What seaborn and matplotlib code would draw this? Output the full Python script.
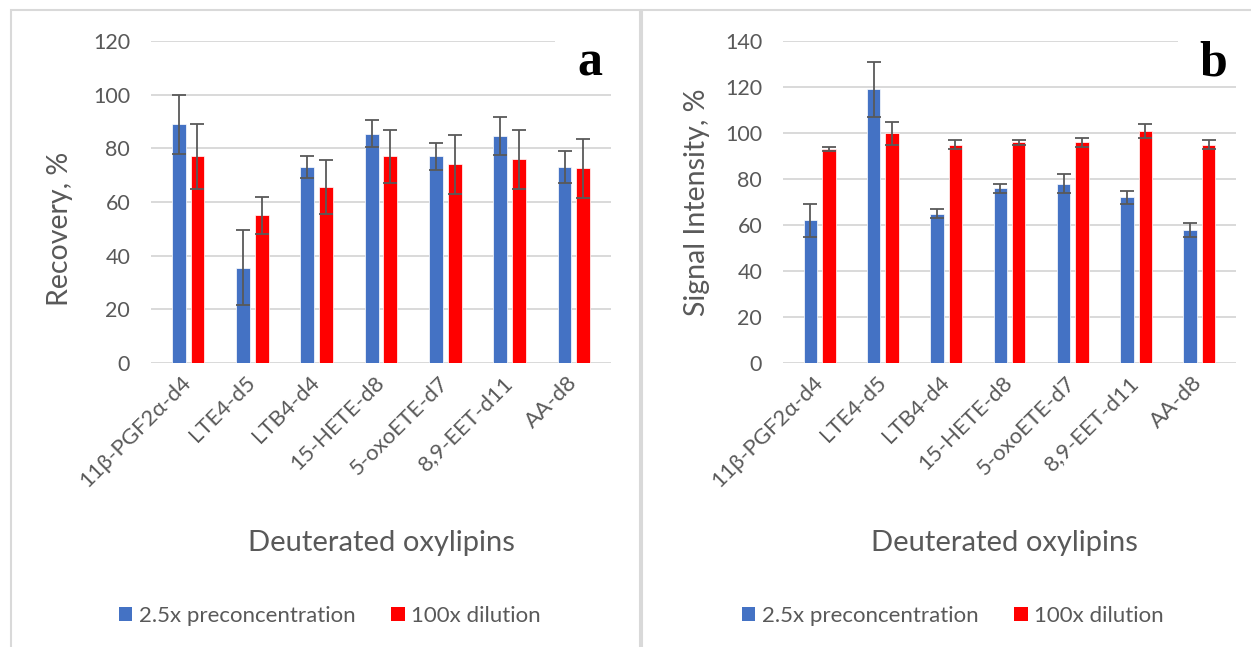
import matplotlib
matplotlib.use("Agg")
import matplotlib.pyplot as plt
from matplotlib.patches import Rectangle, Patch
import seaborn as sns
import pandas as pd

categories = ["11β-PGF2α-d4", "LTE4-d5", "LTB4-d4", "15-HETE-d8", "5-oxoETE-d7", "8,9-EET-d11", "AA-d8"]
series_names = ["2.5x preconcentration", "100x dilution"]

recovery_pre = [89, 35.5, 73, 85.5, 77, 84.5, 73]
recovery_pre_err = [11, 14, 4, 5, 5, 7, 6]
recovery_dil = [77, 55, 65.5, 77, 74, 76, 72.5]
recovery_dil_err = [12, 7, 10, 10, 11, 11, 11]

signal_pre = [62, 119, 65, 76, 78, 72, 58]
signal_pre_err = [7, 12, 2, 2, 4, 3, 3]
signal_dil = [93, 100, 95, 96, 96, 101, 95]
signal_dil_err = [1, 5, 2, 1, 2, 3, 2]

colors = ["#4472C4", "#FF0000"]
text_color = "#595959"
grid_color = "#D9D9D9"

sns.set_theme(style="white")
plt.rcParams["font.family"] = ["Lato", "DejaVu Sans"]

W, H = 1251, 647
fig = plt.figure(figsize=(W / 100, H / 100), dpi=100)
fig.patch.set_facecolor("white")


def fx(px):
    return px / W


def fy(py):
    return 1 - py / H


def make_panel(left, right, top, bottom, pre, pre_err, dil, dil_err, ymax,
               ylabel, ylabel_px, ylabel_y, xlabel_x, letter, letter_x, box_x0, box_x1, legend_x):
    ax = fig.add_axes([fx(left), fy(bottom), fx(right - left), (bottom - top) / H])
    df = pd.DataFrame({
        "category": categories * 2,
        "series": [series_names[0]] * len(categories) + [series_names[1]] * len(categories),
        "value": list(pre) + list(dil),
    })
    sns.barplot(data=df, x="category", y="value", hue="series", order=categories,
                hue_order=series_names, palette=colors, errorbar=None, width=0.58,
                gap=0.26, saturation=1, edgecolor="white", linewidth=0.5,
                legend=False, ax=ax)
    for cont, err in zip(ax.containers, [pre_err, dil_err]):
        xs = [b.get_x() + b.get_width() / 2 for b in cont]
        ys = [b.get_height() for b in cont]
        ax.errorbar(xs, ys, yerr=err, fmt="none", ecolor=text_color, elinewidth=1.3,
                    capsize=4.7, capthick=1.3, zorder=5)
    ax.set_ylim(0, ymax)
    ax.set_yticks(range(0, ymax + 1, 20))
    ax.yaxis.grid(True, color=grid_color, linewidth=1.4)
    ax.xaxis.grid(False)
    ax.set_axisbelow(True)
    for s in ax.spines.values():
        s.set_visible(False)
    ax.tick_params(axis="both", length=0, colors=text_color)
    ax.tick_params(axis="y", pad=15, labelsize=15.5)
    ax.tick_params(axis="x", pad=12, labelsize=16)
    ax.set_xticks(range(len(categories)))
    ax.set_xticklabels(categories, rotation=45, ha="right", va="center",
                       rotation_mode="anchor")
    ax.set_ylabel(ylabel, fontsize=20.5, color=text_color)
    ax.yaxis.set_label_coords((ylabel_px - left) / (right - left), ylabel_y)
    ax.yaxis.label.set_verticalalignment("center")
    ax.set_xlabel("Deuterated oxylipins", fontsize=21, color=text_color)
    ax.xaxis.set_label_coords(xlabel_x, (bottom - 530) / (bottom - top))
    # white box behind the panel letter
    fig.patches.append(Rectangle((fx(box_x0), fy(80)), fx(box_x1 - box_x0), 65 / H,
                                 transform=fig.transFigure, facecolor="white",
                                 edgecolor="none", zorder=1))
    fig.text(fx(letter_x), fy(75), letter, ha="center", va="baseline",
             family="Liberation Serif", weight="bold", fontsize=36, color="black", zorder=3)
    handles = [Patch(facecolor=c, edgecolor="none", label=n) for c, n in zip(colors, series_names)]
    fig.legend(handles=handles, loc="center", bbox_to_anchor=(fx(legend_x), fy(616)),
               bbox_transform=fig.transFigure, ncol=2, frameon=False, fontsize=16,
               labelcolor=text_color, handlelength=0.6, handleheight=0.6,
               handletextpad=0.3, columnspacing=1.6)
    return ax


make_panel(151, 611, 41, 363, recovery_pre, recovery_pre_err, recovery_dil, recovery_dil_err,
           120, "Recovery, %", 60, 0.415, 0.5, "a", 590, 555, 625, 330)
make_panel(783, 1236, 41, 363, signal_pre, signal_pre_err, signal_dil, signal_dil_err,
           140, "Signal Intensity, %", 697, 0.5, 0.488, "b", 1213, 1178, 1246, 953)

# chart borders
fig.patches.append(Rectangle((fx(11), fy(660)), fx(629), 650 / H, transform=fig.transFigure,
                             facecolor="none", edgecolor=grid_color, linewidth=1.5, zorder=2))
fig.patches.append(Rectangle((fx(642), fy(660)), fx(620), 650 / H, transform=fig.transFigure,
                             facecolor="none", edgecolor=grid_color, linewidth=1.5, zorder=2))

fig.savefig("out.png", dpi=100, facecolor="white")
